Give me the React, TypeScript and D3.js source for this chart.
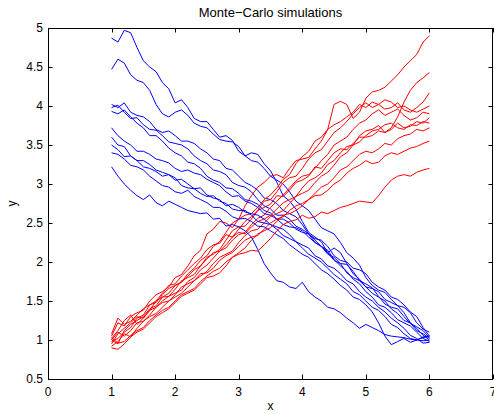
import React from 'react';
import * as d3 from 'd3';

const xGrid = [1, 1.1, 1.2, 1.3, 1.4, 1.5, 1.6, 1.7, 1.8, 1.9, 2, 2.1, 2.2, 2.3, 2.4, 2.5, 2.6, 2.7, 2.8, 2.9, 3, 3.1, 3.2, 3.3, 3.4, 3.5, 3.6, 3.7, 3.8, 3.9, 4, 4.1, 4.2, 4.3, 4.4, 4.5, 4.6, 4.7, 4.8, 4.9, 5, 5.1, 5.2, 5.3, 5.4, 5.5, 5.6, 5.7, 5.8, 5.9, 6];

const blue1 = [4.87, 4.82, 4.97, 4.94, 4.75, 4.58, 4.50, 4.44, 4.30, 4.22, 4.04, 4.08, 3.98, 3.84, 3.80, 3.80, 3.70, 3.60, 3.62, 3.56, 3.42, 3.36, 3.40, 3.38, 3.26, 3.17, 3.02, 2.85, 2.78, 2.68, 2.52, 2.38, 2.32, 2.26, 2.12, 2.02, 1.98, 1.97, 1.88, 1.76, 1.72, 1.67, 1.56, 1.46, 1.42, 1.40, 1.30, 1.21, 1.17, 1.12, 1.03];
const blue2 = [4.47, 4.60, 4.55, 4.40, 4.33, 4.30, 4.20, 4.02, 3.90, 3.86, 3.92, 3.95, 3.88, 3.78, 3.74, 3.72, 3.64, 3.57, 3.55, 3.54, 3.48, 3.36, 3.30, 3.28, 3.20, 3.10, 3.05, 3.00, 2.90, 2.78, 2.72, 2.66, 2.55, 2.44, 2.40, 2.36, 2.25, 2.12, 2.05, 1.96, 1.80, 1.70, 1.64, 1.61, 1.52, 1.44, 1.42, 1.35, 1.22, 1.14, 1.10];
const blue3 = [4.02, 3.98, 4.04, 3.92, 3.88, 3.86, 3.80, 3.70, 3.66, 3.68, 3.62, 3.55, 3.55, 3.52, 3.45, 3.40, 3.32, 3.30, 3.20, 3.18, 3.10, 3.02, 2.98, 2.92, 2.82, 2.80, 2.75, 2.66, 2.62, 2.58, 2.48, 2.36, 2.30, 2.28, 2.20, 2.08, 2.02, 2.00, 1.92, 1.90, 1.85, 1.74, 1.68, 1.64, 1.55, 1.52, 1.45, 1.36, 1.30, 1.16, 1.05];
const blue4 = [3.98, 4.01, 3.92, 3.84, 3.85, 3.76, 3.70, 3.69, 3.62, 3.54, 3.52, 3.50, 3.45, 3.36, 3.30, 3.26, 3.18, 3.16, 3.12, 3.02, 2.98, 2.96, 2.90, 2.80, 2.72, 2.68, 2.60, 2.60, 2.55, 2.46, 2.42, 2.36, 2.25, 2.20, 2.10, 2.06, 1.98, 1.86, 1.80, 1.76, 1.68, 1.60, 1.55, 1.50, 1.40, 1.34, 1.25, 1.22, 1.15, 1.06, 1.00];
const blue5 = [3.93, 3.90, 3.95, 3.86, 3.78, 3.72, 3.62, 3.62, 3.55, 3.46, 3.40, 3.36, 3.28, 3.26, 3.20, 3.10, 3.05, 3.02, 2.95, 2.94, 2.88, 2.80, 2.78, 2.74, 2.66, 2.63, 2.55, 2.55, 2.50, 2.42, 2.38, 2.36, 2.28, 2.20, 2.15, 2.03, 1.95, 1.88, 1.78, 1.72, 1.62, 1.55, 1.45, 1.42, 1.35, 1.26, 1.22, 1.18, 1.10, 1.02, 0.98];
const blue6 = [3.72, 3.62, 3.55, 3.50, 3.42, 3.42, 3.38, 3.32, 3.30, 3.27, 3.20, 3.16, 3.18, 3.14, 3.12, 3.06, 3.02, 2.98, 2.90, 2.84, 2.85, 2.78, 2.75, 2.70, 2.62, 2.60, 2.55, 2.48, 2.45, 2.44, 2.40, 2.32, 2.25, 2.20, 2.12, 2.18, 2.12, 1.98, 1.85, 1.78, 1.68, 1.66, 1.62, 1.52, 1.48, 1.44, 1.35, 1.22, 1.12, 1.08, 1.02];
const blue7 = [3.60, 3.50, 3.48, 3.36, 3.30, 3.30, 3.25, 3.18, 3.15, 3.12, 3.05, 3.06, 3.00, 2.94, 2.95, 2.86, 2.82, 2.80, 2.72, 2.74, 2.70, 2.64, 2.62, 2.60, 2.55, 2.48, 2.45, 2.42, 2.35, 2.26, 2.22, 2.18, 2.08, 2.04, 1.95, 1.92, 1.85, 1.76, 1.72, 1.62, 1.55, 1.50, 1.42, 1.36, 1.28, 1.22, 1.15, 1.06, 1.02, 0.96, 0.97];
const blue8 = [3.50, 3.44, 3.35, 3.36, 3.30, 3.22, 3.20, 3.16, 3.10, 3.12, 3.08, 2.98, 2.95, 2.94, 2.88, 2.84, 2.85, 2.78, 2.75, 2.68, 2.66, 2.66, 2.60, 2.52, 2.50, 2.48, 2.42, 2.34, 2.30, 2.26, 2.18, 2.10, 2.05, 2.00, 1.92, 1.84, 1.78, 1.72, 1.62, 1.58, 1.50, 1.42, 1.38, 1.30, 1.20, 1.16, 1.08, 1.02, 1.00, 1.03, 1.05];
const blue9 = [3.40, 3.38, 3.32, 3.24, 3.22, 3.18, 3.10, 3.04, 2.98, 2.96, 2.90, 2.88, 2.92, 2.84, 2.80, 2.76, 2.70, 2.70, 2.65, 2.58, 2.55, 2.56, 2.52, 2.46, 2.45, 2.40, 2.35, 2.30, 2.22, 2.16, 2.10, 2.06, 1.98, 1.90, 1.85, 1.78, 1.70, 1.64, 1.55, 1.52, 1.45, 1.36, 1.22, 1.05, 0.94, 0.98, 1.02, 0.97, 1.00, 1.04, 1.05];
const blue10 = [3.22, 3.10, 3.00, 2.92, 2.85, 2.80, 2.86, 2.76, 2.72, 2.78, 2.74, 2.70, 2.66, 2.64, 2.62, 2.63, 2.55, 2.56, 2.46, 2.48, 2.45, 2.40, 2.32, 2.16, 1.98, 1.86, 1.76, 1.74, 1.68, 1.66, 1.74, 1.62, 1.55, 1.50, 1.42, 1.40, 1.35, 1.28, 1.22, 1.15, 1.20, 1.16, 1.12, 1.07, 1.05, 1.04, 1.03, 1.01, 1.00, 0.99, 1.00];

const red1 = [1.00, 0.95, 1.12, 1.20, 1.25, 1.30, 1.40, 1.44, 1.55, 1.60, 1.70, 1.74, 1.85, 1.92, 2.02, 2.08, 2.20, 2.26, 2.38, 2.50, 2.55, 2.72, 2.85, 2.96, 3.02, 3.10, 3.12, 3.08, 3.20, 3.30, 3.32, 3.34, 3.45, 3.55, 3.70, 4.02, 4.06, 4.02, 3.84, 3.92, 4.10, 4.18, 4.20, 4.24, 4.32, 4.40, 4.50, 4.58, 4.66, 4.82, 4.90];
const red2 = [0.95, 1.08, 1.15, 1.22, 1.30, 1.28, 1.38, 1.50, 1.55, 1.56, 1.65, 1.76, 1.80, 1.84, 1.95, 2.06, 2.10, 2.16, 2.28, 2.40, 2.45, 2.46, 2.55, 2.66, 2.70, 2.74, 2.85, 2.84, 2.92, 3.02, 3.05, 3.10, 3.22, 3.20, 3.30, 3.40, 3.45, 3.44, 3.52, 3.60, 3.60, 3.62, 3.68, 3.66, 3.72, 3.86, 4.05, 4.20, 4.30, 4.36, 4.43];
const red3 = [1.05, 1.22, 1.18, 1.30, 1.35, 1.38, 1.50, 1.58, 1.62, 1.68, 1.80, 1.84, 1.95, 2.08, 2.15, 2.36, 2.42, 2.52, 2.50, 2.44, 2.55, 2.60, 2.62, 2.70, 2.80, 2.86, 2.95, 3.06, 3.12, 3.26, 3.35, 3.42, 3.55, 3.60, 3.70, 3.76, 3.80, 3.86, 3.92, 4.02, 3.98, 4.05, 4.02, 3.96, 3.98, 4.04, 3.95, 3.92, 3.98, 4.05, 4.17];
const red4 = [0.98, 1.02, 1.10, 1.16, 1.28, 1.32, 1.45, 1.50, 1.60, 1.70, 1.72, 1.82, 1.90, 1.98, 2.05, 2.16, 2.22, 2.24, 2.35, 2.32, 2.42, 2.52, 2.58, 2.66, 2.78, 2.80, 2.90, 3.02, 3.08, 3.10, 3.20, 3.32, 3.40, 3.44, 3.55, 3.66, 3.72, 3.80, 3.90, 3.98, 4.04, 3.98, 4.02, 4.08, 4.05, 3.98, 4.00, 3.95, 3.92, 3.96, 4.00];
const red5 = [1.02, 1.12, 1.25, 1.32, 1.20, 1.28, 1.38, 1.42, 1.50, 1.56, 1.60, 1.64, 1.75, 1.80, 1.90, 1.96, 2.05, 2.14, 2.18, 2.28, 2.35, 2.38, 2.48, 2.56, 2.60, 2.70, 2.78, 2.86, 2.95, 3.04, 3.10, 3.12, 3.20, 3.30, 3.38, 3.50, 3.55, 3.60, 3.70, 3.78, 3.82, 3.90, 3.95, 3.88, 3.92, 3.96, 3.88, 3.82, 3.85, 3.92, 3.90];
const red6 = [0.92, 0.98, 1.08, 1.04, 1.15, 1.24, 1.30, 1.34, 1.42, 1.50, 1.55, 1.60, 1.68, 1.76, 1.82, 1.88, 1.98, 2.06, 2.10, 2.14, 2.25, 2.34, 2.40, 2.42, 2.50, 2.58, 2.62, 2.66, 2.75, 2.84, 2.88, 2.92, 3.02, 3.10, 3.15, 3.24, 3.35, 3.40, 3.50, 3.62, 3.68, 3.70, 3.75, 3.66, 3.70, 3.78, 3.72, 3.74, 3.80, 3.78, 3.85];
const red7 = [1.08, 1.28, 1.20, 1.24, 1.32, 1.40, 1.45, 1.48, 1.58, 1.66, 1.70, 1.74, 1.82, 1.90, 1.95, 2.04, 2.12, 2.14, 2.22, 2.32, 2.38, 2.36, 2.45, 2.52, 2.55, 2.60, 2.68, 2.76, 2.80, 2.84, 2.95, 3.04, 3.08, 3.14, 3.25, 3.30, 3.40, 3.48, 3.50, 3.54, 3.62, 3.68, 3.70, 3.76, 3.78, 3.72, 3.70, 3.76, 3.75, 3.80, 3.78];
const red8 = [1.00, 1.10, 1.05, 1.12, 1.22, 1.24, 1.32, 1.42, 1.48, 1.50, 1.58, 1.68, 1.72, 1.76, 1.85, 1.86, 1.92, 2.02, 2.08, 2.12, 2.20, 2.28, 2.32, 2.34, 2.42, 2.50, 2.55, 2.58, 2.66, 2.72, 2.75, 2.80, 2.88, 2.96, 3.00, 3.08, 3.18, 3.22, 3.30, 3.38, 3.42, 3.40, 3.45, 3.52, 3.50, 3.58, 3.62, 3.64, 3.70, 3.68, 3.72];
const red9 = [0.90, 0.88, 0.95, 1.04, 1.10, 1.14, 1.22, 1.30, 1.35, 1.40, 1.48, 1.56, 1.60, 1.64, 1.72, 1.80, 1.82, 1.86, 1.95, 2.06, 2.12, 2.18, 2.28, 2.36, 2.40, 2.44, 2.52, 2.60, 2.62, 2.66, 2.72, 2.80, 2.85, 2.86, 2.92, 3.00, 3.05, 3.14, 3.20, 3.24, 3.30, 3.26, 3.28, 3.36, 3.40, 3.38, 3.42, 3.46, 3.48, 3.52, 3.55];
const red10 = [1.03, 0.96, 0.98, 1.06, 1.12, 1.16, 1.25, 1.32, 1.38, 1.42, 1.50, 1.58, 1.62, 1.66, 1.75, 1.82, 1.88, 1.92, 2.00, 2.06, 2.10, 2.12, 2.15, 2.14, 2.22, 2.30, 2.40, 2.48, 2.52, 2.54, 2.60, 2.56, 2.58, 2.64, 2.62, 2.66, 2.70, 2.72, 2.75, 2.78, 2.77, 2.76, 2.85, 2.96, 3.05, 3.10, 3.12, 3.10, 3.15, 3.18, 3.20];

const blueSeries = [blue1, blue2, blue3, blue4, blue5, blue6, blue7, blue8, blue9, blue10];
const redSeries = [red1, red2, red3, red4, red5, red6, red7, red8, red9, red10];

const xTicks = [0, 1, 2, 3, 4, 5, 6, 7];
const xTickLabels = ['0', '1', '2', '3', '4', '5', '6', '7'];
const yTicks = [0.5, 1, 1.5, 2, 2.5, 3, 3.5, 4, 4.5, 5];
const yTickLabels = ['0.5', '1', '1.5', '2', '2.5', '3', '3.5', '4', '4.5', '5'];

const titleText = 'Monte\u2212Carlo simulations';
const xLabel = 'x';
const yLabel = 'y';

export default function App() {
  const W = 494;
  const H = 414;
  const left = 48, right = 493, top = 28, bottom = 379;
  const x = d3.scaleLinear().domain([0, 7]).range([left, right]);
  const y = d3.scaleLinear().domain([0.5, 5]).range([bottom, top]);
  const line = d3.line<number>().x((_, i) => x(xGrid[i])).y((d) => y(d));
  const font = '"Liberation Sans", Arial, Helvetica, sans-serif';
  const tl = 4.5;

  const paths: any[] = [];
  for (let i = 0; i < blueSeries.length; i++) {
    paths.push(<path key={'b' + i} d={line(blueSeries[i]) || ''} fill="none" stroke="#0000ff" strokeWidth={1} />);
    paths.push(<path key={'r' + i} d={line(redSeries[i]) || ''} fill="none" stroke="#ff0000" strokeWidth={1} />);
  }

  return (
    <svg width={W} height={H} style={{ position: 'absolute', left: 0, top: 0, background: '#fff' }} fontFamily={font}>
      <rect x={0} y={0} width={W} height={H} fill="#fff" />
      <clipPath id="plotclip">
        <rect x={left} y={top} width={right - left} height={bottom - top} />
      </clipPath>
      <g clipPath="url(#plotclip)">{paths}</g>
      <rect x={left + 0.5} y={top + 0.5} width={right - left - 1} height={bottom - top} fill="none" stroke="#000" strokeWidth={1} />
      {xTicks.map((t, i) => (
        <g key={'xt' + i}>
          <line x1={Math.round(x(t)) + 0.5} x2={Math.round(x(t)) + 0.5} y1={bottom} y2={bottom - tl} stroke="#000" />
          <line x1={Math.round(x(t)) + 0.5} x2={Math.round(x(t)) + 0.5} y1={top} y2={top + tl} stroke="#000" />
          <text x={x(t)} y={396} fontSize={12} textAnchor="middle" fill="#000">{xTickLabels[i]}</text>
        </g>
      ))}
      {yTicks.map((t, i) => (
        <g key={'yt' + i}>
          <line x1={left} x2={left + tl} y1={Math.round(y(t)) + 0.5} y2={Math.round(y(t)) + 0.5} stroke="#000" />
          <line x1={right} x2={right - tl} y1={Math.round(y(t)) + 0.5} y2={Math.round(y(t)) + 0.5} stroke="#000" />
          <text x={43} y={y(t) + 4.3} fontSize={12} textAnchor="end" fill="#000">{yTickLabels[i]}</text>
        </g>
      ))}
      <text x={(left + right) / 2} y={17} fontSize={13} textAnchor="middle" fill="#000">{titleText}</text>
      <text x={(left + right) / 2} y={410} fontSize={12} textAnchor="middle" fill="#000">{xLabel}</text>
      <text transform={`translate(16,${(top + bottom) / 2}) rotate(-90)`} fontSize={12} textAnchor="middle" fill="#000">{yLabel}</text>
    </svg>
  );
}
